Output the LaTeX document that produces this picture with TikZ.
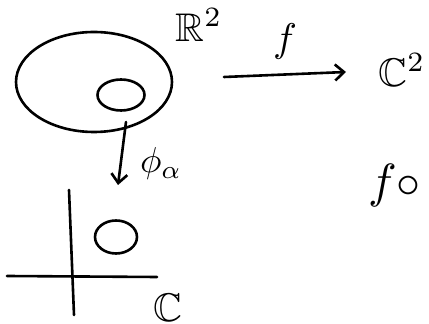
\documentclass[tikz,border=0pt]{standalone}
\usepackage{amsmath}
\usepackage{amssymb}
\usetikzlibrary{shapes.geometric, arrows.meta}

\begin{document}
\begin{tikzpicture}[x=1pt, y=1pt, line width=2.6pt, line cap=round,
  every node/.style={inner sep=0pt},
  blob/.style={draw, ellipse},
  lbl/.style={scale=4},
  hook/.style={-{Straight Barb[length=9pt, width=16pt]}}]
\useasboundingbox (0,0) rectangle (429,324);

% domain in R^2
\node[blob, minimum width=156, minimum height=100] (plane) at (94,242) {};
\node[blob, minimum width=47, minimum height=31] (disk) at (121,229) {};
\node[lbl] (R2) at (199,299) {$\mathbb{R}^2$};

% map f
\coordinate (fstart) at (224,247);
\coordinate (fend) at (346,252);
\draw[hook] (fstart) -- (fend) node[midway, above=10pt, lbl] (f) {$f$};
\node[lbl] (C2) at (402,254) {$\mathbb{C}^2$};

% chart phi_alpha
\coordinate (phistart) at (126,202);
\coordinate (phiend) at (118,139);
\draw[hook] (phistart) -- (phiend);
\node[lbl, scale=0.9] (phi) at (161,160) {$\phi_\alpha$};

% complex line
\coordinate (ytop) at (69,134);
\coordinate (ybot) at (74,9);
\coordinate (xleft) at (7,48);
\coordinate (xright) at (157,47);
\draw (ytop) -- (ybot);
\draw (xleft) -- (xright);
\node[blob, minimum width=42, minimum height=33] (image) at (116,87) {};
\node[lbl] (C) at (168,16) {$\mathbb{C}$};

% composition
\node[lbl, scale=1.2, anchor=east] (comp) at (427,138) {$f\circ$};
\end{tikzpicture}
\end{document}
